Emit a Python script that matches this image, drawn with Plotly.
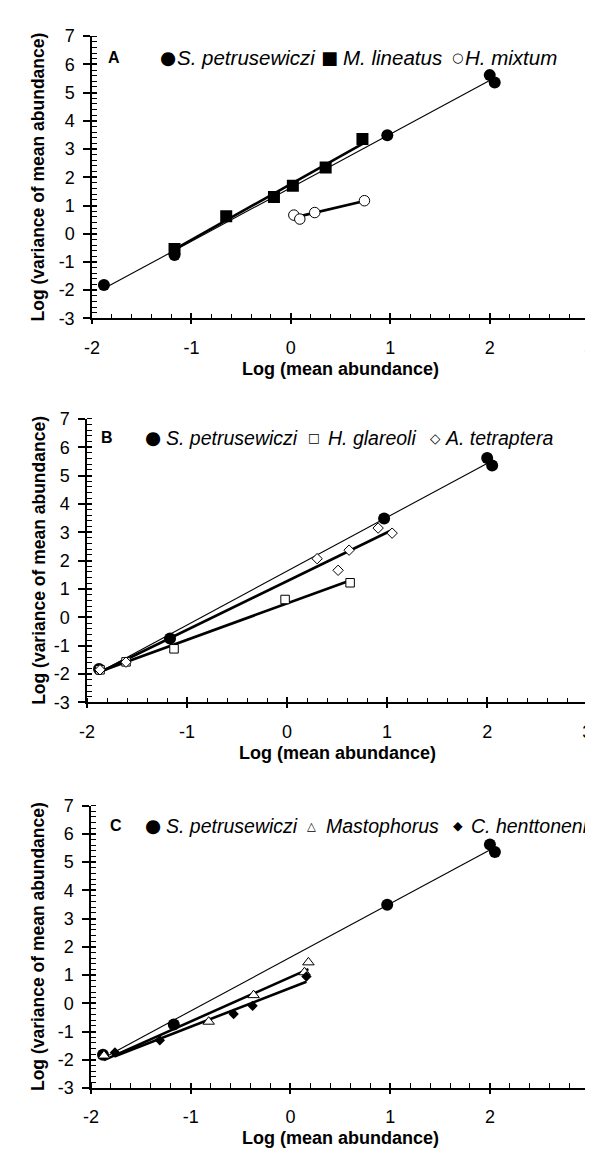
import numpy as np
import plotly.graph_objects as go

# ---------------- data ----------------
# Panel A
sp_x = [-1.88, -1.17, 0.97, 2.00, 2.05]
sp_y = [-1.82, -0.75, 3.49, 5.62, 5.36]
ml_x = [-1.17, -0.65, -0.17, 0.02, 0.35, 0.72]
ml_y = [-0.54, 0.62, 1.30, 1.70, 2.35, 3.36]
hm_x = [0.03, 0.09, 0.24, 0.74]
hm_y = [0.66, 0.52, 0.75, 1.17]
# Panel B
hg_x = [-1.87, -1.61, -1.13, -0.02, 0.63]
hg_y = [-1.85, -1.57, -1.11, 0.63, 1.22]
at_x = [-1.87, -1.61, 0.30, 0.51, 0.62, 0.91, 1.05]
at_y = [-1.85, -1.58, 2.07, 1.66, 2.37, 3.15, 2.97]
# Panel C
ma_x = [-1.87, -0.82, -0.37, 0.14, 0.18]
ma_y = [-1.85, -0.65, 0.29, 1.10, 1.45]
ch_x = [-1.76, -1.31, -0.57, -0.38, 0.16]
ch_y = [-1.74, -1.31, -0.38, -0.09, 0.95]

panel_labels = ["A", "B", "C"]
x_ticks = [-2, -1, 0, 1, 2, 3]
x_ticktext = ["-2", "-1", "0", "1", "2", "3"]
y_ticks = [-3, -2, -1, 0, 1, 2, 3, 4, 5, 6, 7]
y_ticktext = ["-3", "-2", "-1", "0", "1", "2", "3", "4", "5", "6", "7"]
x_title = "Log (mean abundance)"
y_title = "Log (variance of mean abundance)"

W, H = 593, 1151
FONT = "Liberation Sans, Arial, Helvetica, sans-serif"

# panel plot-area pixel boxes (left, right, top, bottom)
boxes = [(77.7, 586, 18.5, 305.7), (72.6, 584, 408, 696.5), (76.7, 586.5, 801.5, 1089)]

sym = {
    "fcircle": dict(symbol="circle", size=12, color="black", line=dict(color="black", width=0)),
    "fsquare": dict(symbol="square", size=12, color="black", line=dict(color="black", width=0)),
    "ocircle": dict(symbol="circle", size=10.5, color="white", line=dict(color="black", width=1)),
    "osquare": dict(symbol="square", size=8.5, color="white", line=dict(color="black", width=1)),
    "odiamond": dict(symbol="diamond", size=8, color="white", line=dict(color="black", width=1)),
    "otriangle": dict(symbol="triangle-up", size=10, color="white", line=dict(color="black", width=1)),
    "fdiamond": dict(symbol="diamond", size=8, color="black", line=dict(color="black", width=0)),
}

panels = [
    [("S. petrusewiczi", sp_x, sp_y, "fcircle", 1.1),
     ("M. lineatus", ml_x, ml_y, "fsquare", 2.6),
     ("H. mixtum", hm_x, hm_y, "ocircle", 2.6)],
    [("S. petrusewiczi", sp_x, sp_y, "fcircle", 1.1),
     ("H. glareoli", hg_x, hg_y, "osquare", 2.6),
     ("A. tetraptera", at_x, at_y, "odiamond", 2.6)],
    [("S. petrusewiczi", sp_x, sp_y, "fcircle", 1.1),
     ("Mastophorus", ma_x, ma_y, "otriangle", 2.6),
     ("C. henttoneni", ch_x, ch_y, "fdiamond", 2.6)],
]

glyphs = {"fcircle": ("●", 18.5), "fsquare": ("■", 18), "ocircle": ("○", 13),
          "osquare": ("□", 12.5), "odiamond": ("◇", 13.5), "otriangle": ("△", 11.5),
          "fdiamond": ("◆", 12.5)}

# legend layout in px: (panel letter x, y, font size, [(glyph centre x, text left x), ...])
legend_pos = [
    (100, 40, 20.5, [(155, 164), (320.5, 333.5), (451, 458.5)]),
    (93, 427, 19.5, [(139.7, 152), (305, 317.5), (429.3, 437.7)]),
    (102, 822, 19.5, [(139.7, 152), (302.6, 316), (451.5, 464)]),
]

fig = go.Figure()
annotations = []
layout_axes = {}

for i, series in enumerate(panels):
    n = "" if i == 0 else str(i + 1)
    xa, ya = "x" + n, "y" + n
    # regression lines (fitted from the data)
    for name, xs, ys, key, lw in series:
        xs_a = np.array(xs); ys_a = np.array(ys)
        k, b = np.polyfit(xs_a, ys_a, 1)
        xl = np.array([xs_a.min(), xs_a.max()])
        fig.add_trace(go.Scatter(x=xl, y=k * xl + b, mode="lines",
                                 line=dict(color="black", width=lw),
                                 xaxis=xa, yaxis=ya, showlegend=False, hoverinfo="skip"))
    for name, xs, ys, key, lw in series:
        fig.add_trace(go.Scatter(x=xs, y=ys, mode="markers", name=name,
                                 marker=sym[key], xaxis=xa, yaxis=ya, showlegend=False))

    l, r, t, btm = boxes[i]
    xdom = [l / W, r / W]
    ydom = [1 - btm / H, 1 - t / H]
    common = dict(showgrid=False, zeroline=False, showline=True, linecolor="black",
                  linewidth=1.5, tickwidth=1.5, tickcolor="black",
                  tickfont=dict(family=FONT, size=18, color="black"),
                  ticklabeloverflow="allow")
    layout_axes["xaxis" + n] = dict(common, domain=xdom, range=[-2, 3], anchor=ya,
                                    ticks="outside", ticklen=4, ticklabelstandoff=8,
                                    tickvals=x_ticks, ticktext=x_ticktext,
                                    minor=dict(ticks="inside", ticklen=5, tickwidth=1,
                                               tickcolor="black", dtick=0.2))
    layout_axes["yaxis" + n] = dict(common, domain=ydom, range=[-3, 7], anchor=xa,
                                    ticks="outside", ticklen=7, ticklabelstandoff=5,
                                    tickvals=y_ticks, ticktext=y_ticktext,
                                    minor=dict(ticks="inside", ticklen=5, tickwidth=1,
                                               tickcolor="black", dtick=0.2))
    # overlay axes: inner half of the crossing major ticks
    k2 = str(i + 4)
    layout_axes["xaxis" + k2] = dict(domain=xdom, range=[-2, 3], overlaying=xa,
                                     side="bottom", showgrid=False, zeroline=False, showline=False,
                                     ticks="inside", ticklen=5, tickwidth=1.5, tickcolor="black",
                                     tickvals=x_ticks, showticklabels=False)
    layout_axes["yaxis" + k2] = dict(domain=ydom, range=[-3, 7], overlaying=ya,
                                     side="left", showgrid=False, zeroline=False, showline=False,
                                     ticks="inside", ticklen=5, tickwidth=1.5, tickcolor="black",
                                     tickvals=y_ticks, showticklabels=False)

    # axis titles
    annotations.append(dict(text="<b>%s</b>" % x_title, x=(l + r) / 2 / W, y=1 - (btm + 51) / H,
                            xref="paper", yref="paper", showarrow=False, xanchor="center",
                            yanchor="middle", font=dict(family=FONT, size=18, color="black")))
    annotations.append(dict(text="<b>%s</b>" % y_title, x=22.7 / W, y=1 - (t + btm) / 2 / H,
                            xref="paper", yref="paper", showarrow=False, xanchor="center",
                            yanchor="middle", textangle=-90,
                            font=dict(family=FONT, size=17.5, color="black")))

    # legend-like key
    lx, ly, fs, items = legend_pos[i]
    annotations.append(dict(text="<b>%s</b>" % panel_labels[i], x=lx / W, y=1 - ly / H,
                            xref="paper", yref="paper", showarrow=False, xanchor="center",
                            yanchor="middle", font=dict(family=FONT, size=16, color="black")))
    for (name, xs, ys, key, lw), (gx, tx) in zip(series, items):
        g, gs = glyphs[key]
        annotations.append(dict(text=g, x=gx / W, y=1 - ly / H, xref="paper", yref="paper",
                                showarrow=False, xanchor="center", yanchor="middle",
                                font=dict(family="DejaVu Sans", size=gs, color="black")))
        annotations.append(dict(text="<i>%s</i>" % name, x=tx / W, y=1 - ly / H,
                                xref="paper", yref="paper", showarrow=False, xanchor="left",
                                yanchor="middle", borderpad=0,
                                font=dict(family=FONT, size=fs, color="black")))

# empty traces so the overlay tick axes are drawn
for i in range(3):
    k2 = str(i + 4)
    fig.add_trace(go.Scatter(x=[None], y=[None], xaxis="x" + k2, yaxis="y" + k2,
                             showlegend=False, hoverinfo="skip"))
    layout_axes["xaxis" + k2]["anchor"] = "y" + k2
    layout_axes["yaxis" + k2]["anchor"] = "x" + k2

fig.update_layout(width=W, height=H, margin=dict(l=0, r=0, t=0, b=0),
                  plot_bgcolor="white", paper_bgcolor="white",
                  showlegend=False, annotations=annotations, **layout_axes)

fig.write_html("out.html")
